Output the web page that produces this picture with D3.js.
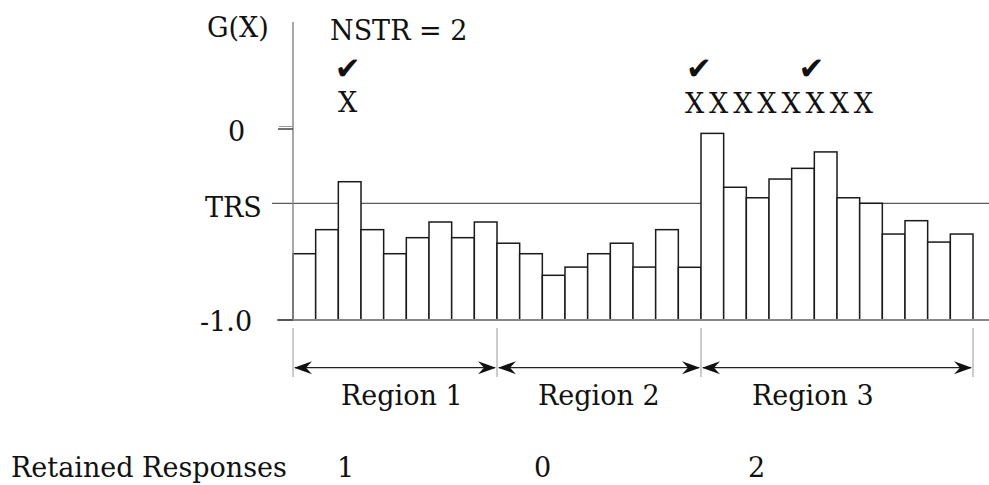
<!DOCTYPE html>
<html><head><meta charset="utf-8">
<script src="https://cdn.jsdelivr.net/npm/d3@7"></script>
<style>body{margin:0;background:#fff}svg{display:block}</style>
</head><body>
<svg id="chart" width="989" height="485"></svg>
<script>
// ---- data ----
const barIds = d3.range(1, 31);
const gValues = [-0.653,-0.527,-0.276,-0.527,-0.653,-0.569,-0.487,-0.569,-0.487,
                 -0.598,-0.653,-0.766,-0.723,-0.653,-0.598,-0.723,-0.527,-0.724,
                 -0.023,-0.305,-0.360,-0.262,-0.206,-0.120,-0.360,-0.389,-0.550,-0.480,-0.592,-0.550];
const trsValue = -0.389;
const yTickValues = [0, -1.0];
const yTickLabels = ["0", "-1.0"];
const regionNames = ["Region 1", "Region 2", "Region 3"];
const regionStart = [0, 9, 18];
const regionEnd = [9, 18, 30];
const retained = ["1", "0", "2"];
const flaggedR1 = [2];
const flaggedR3 = [18, 19, 20, 21, 22, 23, 24, 25];
const checkedIdx = [2, 18, 23];

// ---- drawing ----
const svg = d3.select("#chart");
svg.append("rect").attr("width", 989).attr("height", 485).attr("fill", "#fff");
const serif = "DejaVu Serif";
const fs = 27;

const x = d3.scaleBand().domain(barIds).range([293, 973]).padding(0);
const y = d3.scaleLinear().domain([-1, 0]).range([320, 129]);
const bw = x.bandwidth();

// TRS line
svg.append("line").attr("x1", 272).attr("x2", 989)
  .attr("y1", y(trsValue)).attr("y2", y(trsValue))
  .attr("stroke", "#333").attr("stroke-width", 1);

// bars
svg.append("g").selectAll("rect").data(gValues).join("rect")
  .attr("x", (d, i) => x(barIds[i]))
  .attr("y", d => y(d))
  .attr("width", bw)
  .attr("height", d => y(-1) - y(d))
  .attr("fill", "#fff").attr("stroke", "#1a1a1a").attr("stroke-width", 1.5);

// baseline
svg.append("line").attr("x1", 277).attr("x2", 989)
  .attr("y1", y(-1)).attr("y2", y(-1))
  .attr("stroke", "#888").attr("stroke-width", 2);

// vertical axis
svg.append("line").attr("x1", 293).attr("x2", 293).attr("y1", 22).attr("y2", y(-1))
  .attr("stroke", "#8a8a8a").attr("stroke-width", 1.5);
// ticks
svg.append("line").attr("x1", 279).attr("x2", 293).attr("y1", y(0) - 2.5).attr("y2", y(0) - 2.5)
  .attr("stroke", "#999").attr("stroke-width", 1);
yTickValues.forEach(v => {
  svg.append("line").attr("x1", 278).attr("x2", 293).attr("y1", y(v)).attr("y2", y(v))
    .attr("stroke", "#444").attr("stroke-width", 1.5);
});

function txt(s, xx, yy, opts = {}) {
  const t = svg.append("text").attr("x", xx).attr("y", yy)
    .attr("font-family", opts.family || serif)
    .attr("font-size", opts.size || fs)
    .attr("fill", "#111")
    .attr("text-anchor", opts.anchor || "start")
    .text(s);
  if (opts.ls) t.attr("letter-spacing", opts.ls);
  return t;
}

// y labels
txt("G(X)", 207, 37);
txt(yTickLabels[0], 228, y(yTickValues[0]) + 12);
txt("TRS", 205, y(trsValue) + 14);
txt(yTickLabels[1], 200, y(yTickValues[1]) + 11);

// title
txt("NSTR = 2", 330, 40);

// X marks and checks
flaggedR1.forEach(i => txt("X", x(barIds[i]) + bw / 2 - 2, 112, {anchor: "middle"}));
const r3x0 = x(barIds[flaggedR3[0]]);
txt("X".repeat(flaggedR3.length), r3x0 - 16, 113, {ls: 4.9});
checkedIdx.forEach(i => {
  let cx;
  if (flaggedR1.includes(i)) cx = x(barIds[i]) + bw / 2 - 2;
  else cx = r3x0 - 2 + (i - flaggedR3[0]) * 22.5;
  txt("\u2714", cx, 79, {family: "DejaVu Sans", size: 31, anchor: "middle"});
});

// region brackets
const arrowY = 367.7;
const bounds = [x(barIds[0]), x(barIds[9]), x(barIds[18]), x(barIds[29]) + bw];
bounds.forEach(b => {
  svg.append("line").attr("x1", b).attr("x2", b).attr("y1", 328).attr("y2", 377)
    .attr("stroke", "#999").attr("stroke-width", 1);
});
function arrowHead(tx, dir) {
  const L = 18, H = 6.5, N = 12;
  const p = `M${tx},${arrowY} L${tx - dir * L},${arrowY - H} L${tx - dir * N},${arrowY} L${tx - dir * L},${arrowY + H} Z`;
  svg.append("path").attr("d", p).attr("fill", "#111");
}
const regionLabelStart = [341, 538, 752];
regionNames.forEach((name, r) => {
  const x0 = x(barIds[regionStart[r]]);
  const x1 = x(barIds[regionEnd[r] - 1]) + bw;
  svg.append("line").attr("x1", x0 + 2).attr("x2", x1 - 2).attr("y1", arrowY).attr("y2", arrowY)
    .attr("stroke", "#222").attr("stroke-width", 1.3);
  arrowHead(x0 + 1, -1);
  arrowHead(x1 - 1, 1);
  txt(name, regionLabelStart[r], 405);
});

// retained responses row
txt("Retained Responses", 11, 477);
retained.forEach((v, r) => txt(v, regionLabelStart[r] - 4, 477));
</script>
</body></html>
